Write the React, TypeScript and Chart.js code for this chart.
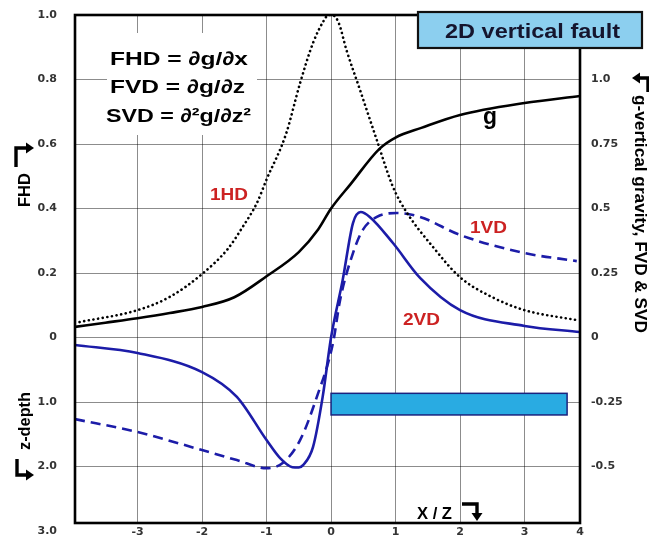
import React, { useEffect, useRef } from 'react';
import { Chart, registerables } from 'chart.js';

Chart.register(...registerables);

// ---------- data ----------
const gX = [-3.97, -3.5, -3.0, -2.5, -2.0, -1.5, -1.0, -0.5, -0.2, 0.0, 0.3, 0.75, 1.0, 1.4, 2.0, 3.0, 3.86];
const gY = [0.033, 0.046, 0.06, 0.076, 0.095, 0.125, 0.19, 0.265, 0.335, 0.4, 0.475, 0.585, 0.62, 0.65, 0.69, 0.727, 0.749];

const fhdX = [-3.9, -3.0, -2.5, -2.0, -1.6, -1.37, -1.15, -1.0, -0.7, -0.48, -0.28, -0.12, -0.04, 0.04, 0.12, 0.24, 0.45, 0.71, 0.96, 1.17, 1.58, 2.0, 2.5, 3.0, 3.81];
const fhdY = [0.048, 0.085, 0.126, 0.197, 0.275, 0.343, 0.417, 0.49, 0.63, 0.789, 0.913, 0.98, 1.0, 0.998, 0.975, 0.891, 0.767, 0.612, 0.467, 0.389, 0.281, 0.187, 0.125, 0.085, 0.054];

const vd1X = [-3.97, -3.0, -2.0, -1.46, -1.0, -0.75, -0.48, -0.22, 0.03, 0.14, 0.34, 0.49, 0.71, 1.02, 1.38, 2.0, 3.0, 3.81];
const vd1Y = [-0.253, -0.293, -0.349, -0.38, -0.405, -0.389, -0.318, -0.184, -0.017, 0.116, 0.262, 0.333, 0.374, 0.386, 0.374, 0.318, 0.262, 0.237];

const vd2X = [-3.97, -3.0, -2.0, -1.46, -1.0, -0.79, -0.6, -0.5, -0.43, -0.28, -0.13, 0.0, 0.18, 0.34, 0.46, 0.6, 0.96, 1.38, 2.0, 3.0, 3.86];
const vd2Y = [-0.023, -0.048, -0.107, -0.184, -0.318, -0.374, -0.402, -0.403, -0.395, -0.34, -0.184, 0.0, 0.178, 0.355, 0.389, 0.374, 0.293, 0.185, 0.085, 0.036, 0.017];

// fault block (x/z extent, value extent)
const faultX = [0, 3.66];
const faultY = [-0.173, -0.24];

// axes
const X_MIN = -3.97;
const X_MAX = 3.86;
const Y_MIN = -0.575;
const Y_MAX = 1.0;
const RIGHT_FACTOR = 1.25;

const xTickValues = [-3, -2, -1, 0, 1, 2, 3, X_MAX];
const xTickLabels = ['-3', '-2', '-1', '0', '1', '2', '3', '4'];

const leftTickValues = [-0.4, -0.2, 0, 0.2, 0.4, 0.6, 0.8, 1.0];
const leftTickLabels = ['2.0', '1.0', '0', '0.2', '0.4', '0.6', '0.8', '1.0'];
const leftExtraValue = -0.6;
const leftExtraLabel = '3.0';

const rightTickValues = [-0.5, -0.25, 0, 0.25, 0.5, 0.75, 1.0];
const rightTickLabels = ['-0.5', '-0.25', '0', '0.25', '0.5', '0.75', '1.0'];

// ---------- helpers ----------
const SANS = '"Liberation Sans", Arial, sans-serif';
const TICK_FONT = { family: '"DejaVu Sans", sans-serif', weight: 'bold' as const, size: 11 };
const TICK_COLOR = '#333333';
const GRID_COLOR = 'rgba(0,0,0,0.45)';
const BLUE = '#1c1ca8';
const RED = '#cc2222';

const pts = (xs: number[], ys: number[]) => xs.map((x, i) => ({ x, y: ys[i] }));

function fitText(ctx: CanvasRenderingContext2D, text: string, x: number, y: number, w: number, font: string, color: string, angle = 0) {
  ctx.save();
  ctx.font = font;
  ctx.fillStyle = color;
  ctx.textAlign = 'left';
  ctx.textBaseline = 'alphabetic';
  const m = ctx.measureText(text).width;
  ctx.translate(x, y);
  if (angle) ctx.rotate(angle);
  ctx.scale(w / m, 1);
  ctx.fillText(text, 0, 0);
  ctx.restore();
}

function bentArrow(ctx: CanvasRenderingContext2D, path: [number, number][], tip: [number, number], dir: 'left' | 'right' | 'down') {
  ctx.save();
  ctx.strokeStyle = '#000';
  ctx.fillStyle = '#000';
  ctx.lineWidth = 3.4;
  ctx.lineJoin = 'miter';
  ctx.beginPath();
  ctx.moveTo(path[0][0], path[0][1]);
  for (let i = 1; i < path.length; i++) ctx.lineTo(path[i][0], path[i][1]);
  ctx.stroke();
  const [tx, ty] = tip;
  const L = 8, H = 5.5;
  ctx.beginPath();
  if (dir === 'right') {
    ctx.moveTo(tx, ty); ctx.lineTo(tx - L, ty - H); ctx.lineTo(tx - L, ty + H);
  } else if (dir === 'left') {
    ctx.moveTo(tx, ty); ctx.lineTo(tx + L, ty - H); ctx.lineTo(tx + L, ty + H);
  } else {
    ctx.moveTo(tx, ty); ctx.lineTo(tx - H, ty - L); ctx.lineTo(tx + H, ty - L);
  }
  ctx.closePath();
  ctx.fill();
  ctx.restore();
}

const decorPlugin = {
  id: 'decor',
  beforeDatasetsDraw(chart: any) {
    const ctx: CanvasRenderingContext2D = chart.ctx;
    const xs = chart.scales.x;
    const ys = chart.scales.y;
    // white panel behind the formulas
    ctx.save();
    ctx.fillStyle = '#ffffff';
    ctx.fillRect(107, 33, 150, 102);
    // fault block
    const x0 = xs.getPixelForValue(faultX[0]);
    const x1 = xs.getPixelForValue(faultX[1]);
    const y0 = ys.getPixelForValue(faultY[0]);
    const y1 = ys.getPixelForValue(faultY[1]);
    ctx.fillStyle = '#29abe2';
    ctx.fillRect(x0, y0, x1 - x0, y1 - y0);
    ctx.strokeStyle = '#1a237e';
    ctx.lineWidth = 1.5;
    ctx.strokeRect(x0, y0, x1 - x0, y1 - y0);
    ctx.restore();
  },
  afterDraw(chart: any) {
    const ctx: CanvasRenderingContext2D = chart.ctx;
    const a = chart.chartArea;
    const ys = chart.scales.y;
    // plot frame
    ctx.save();
    ctx.strokeStyle = '#000';
    ctx.lineWidth = 2.6;
    ctx.strokeRect(a.left, a.top, a.right - a.left, a.bottom - a.top);
    ctx.restore();

    // extra left label below the frame
    ctx.save();
    ctx.font = 'bold 11px "DejaVu Sans", sans-serif';
    ctx.fillStyle = TICK_COLOR;
    ctx.textAlign = 'right';
    ctx.textBaseline = 'middle';
    ctx.fillText(leftExtraLabel, a.left - 18, ys.getPixelForValue(leftExtraValue));
    ctx.restore();

    // title box
    ctx.save();
    ctx.fillStyle = '#8ccfef';
    ctx.fillRect(418, 12, 224, 36);
    ctx.strokeStyle = '#111';
    ctx.lineWidth = 2.2;
    ctx.strokeRect(418, 12, 224, 36);
    ctx.restore();
    fitText(ctx, '2D vertical fault', 445, 38, 175, `bold 21px ${SANS}`, '#15152e');

    // formulas
    fitText(ctx, 'FHD = \u2202g/\u2202x', 110, 65, 138, `bold 19px ${SANS}`, '#000');
    fitText(ctx, 'FVD = \u2202g/\u2202z', 110, 93, 135, `bold 19px ${SANS}`, '#000');
    fitText(ctx, 'SVD = \u2202\u00b2g/\u2202z\u00b2', 106, 122, 145, `bold 19px ${SANS}`, '#000');

    // curve labels
    fitText(ctx, '1HD', 210, 200, 38, `bold 17px ${SANS}`, RED);
    fitText(ctx, '1VD', 470, 233, 37, `bold 17px ${SANS}`, RED);
    fitText(ctx, '2VD', 403, 325, 37, `bold 17px ${SANS}`, RED);
    fitText(ctx, 'g', 483, 124, 14, `bold 24px ${SANS}`, '#000');

    // axis titles
    fitText(ctx, 'FHD', 30, 207, 34, `bold 16px ${SANS}`, '#000', -Math.PI / 2);
    fitText(ctx, 'z-depth', 30, 450, 58, `bold 16px ${SANS}`, '#000', -Math.PI / 2);
    fitText(ctx, 'g-vertical gravity, FVD & SVD', 635, 95, 238, `bold 16px ${SANS}`, '#000', Math.PI / 2);
    fitText(ctx, 'X / Z', 417, 519, 35, `bold 16px ${SANS}`, '#000');

    // bent arrows
    bentArrow(ctx, [[16, 167], [16, 148], [27, 148]], [34, 148], 'right');
    bentArrow(ctx, [[17, 459], [17, 475], [27, 475]], [34, 475], 'right');
    bentArrow(ctx, [[462, 504], [477, 504], [477, 513]], [477, 521], 'down');
    bentArrow(ctx, [[648, 92], [648, 78], [639, 78]], [632, 78], 'left');
  },
};

export default function App() {
  const ref = useRef<HTMLCanvasElement>(null);

  useEffect(() => {
    if (!ref.current) return;
    const lineBase = {
      pointRadius: 0,
      pointHoverRadius: 0,
      fill: false,
      cubicInterpolationMode: 'monotone' as const,
      yAxisID: 'y',
    };
    const fixV = (w: number) => (s: any) => {
      s.width = w;
      s.paddingTop = 0;
      s.paddingBottom = 0;
    };
    const chart = new Chart(ref.current, {
      type: 'line',
      data: {
        datasets: [
          { ...lineBase, label: 'FHD', data: pts(fhdX, fhdY), borderColor: '#000', borderWidth: 2.6, borderDash: [0.1, 4.6], borderCapStyle: 'round' },
          { ...lineBase, label: 'g', data: pts(gX, gY), borderColor: '#000', borderWidth: 2.6 },
          { ...lineBase, label: '1VD', data: pts(vd1X, vd1Y), borderColor: BLUE, borderWidth: 2.6, borderDash: [10, 6] },
          { ...lineBase, label: '2VD', data: pts(vd2X, vd2Y), borderColor: BLUE, borderWidth: 2.6 },
        ],
      },
      options: {
        responsive: false,
        animation: false,
        devicePixelRatio: 1,
        layout: { padding: { top: 15, left: 0, right: 0, bottom: 0 } },
        plugins: { legend: { display: false }, tooltip: { enabled: false }, title: { display: false } },
        scales: {
          x: {
            type: 'linear',
            min: X_MIN,
            max: X_MAX,
            afterBuildTicks: (s: any) => { s.ticks = xTickValues.map((v) => ({ value: v })); },
            afterFit: (s: any) => { s.height = 16; s.paddingLeft = 0; s.paddingRight = 0; },
            ticks: {
              font: TICK_FONT,
              color: TICK_COLOR,
              padding: 3,
              autoSkip: false,
              maxRotation: 0,
              callback: (_v: any, i: number) => xTickLabels[i],
            },
            grid: { color: GRID_COLOR, lineWidth: 1, drawTicks: false },
            border: { display: false },
          },
          y: {
            type: 'linear',
            position: 'left',
            min: Y_MIN,
            max: Y_MAX,
            afterBuildTicks: (s: any) => { s.ticks = leftTickValues.map((v) => ({ value: v })); },
            afterFit: fixV(75),
            ticks: {
              font: TICK_FONT,
              color: TICK_COLOR,
              padding: 18,
              autoSkip: false,
              callback: (_v: any, i: number) => leftTickLabels[i],
            },
            grid: { color: GRID_COLOR, lineWidth: 1, drawTicks: false },
            border: { display: false },
          },
          y2: {
            type: 'linear',
            position: 'right',
            min: Y_MIN * RIGHT_FACTOR,
            max: Y_MAX * RIGHT_FACTOR,
            afterBuildTicks: (s: any) => { s.ticks = rightTickValues.map((v) => ({ value: v })); },
            afterFit: fixV(69),
            ticks: {
              font: TICK_FONT,
              color: TICK_COLOR,
              padding: 11,
              autoSkip: false,
              callback: (_v: any, i: number) => rightTickLabels[i],
            },
            grid: { drawOnChartArea: false, drawTicks: false },
            border: { display: false },
          },
        },
      } as any,
      plugins: [decorPlugin],
    });
    return () => chart.destroy();
  }, []);

  return (
    <div style={{ position: 'fixed', left: 0, top: 0, width: 649, height: 539, background: '#ffffff' }}>
      <canvas ref={ref} width={649} height={539} style={{ display: 'block', width: 649, height: 539 }} />
    </div>
  );
}
